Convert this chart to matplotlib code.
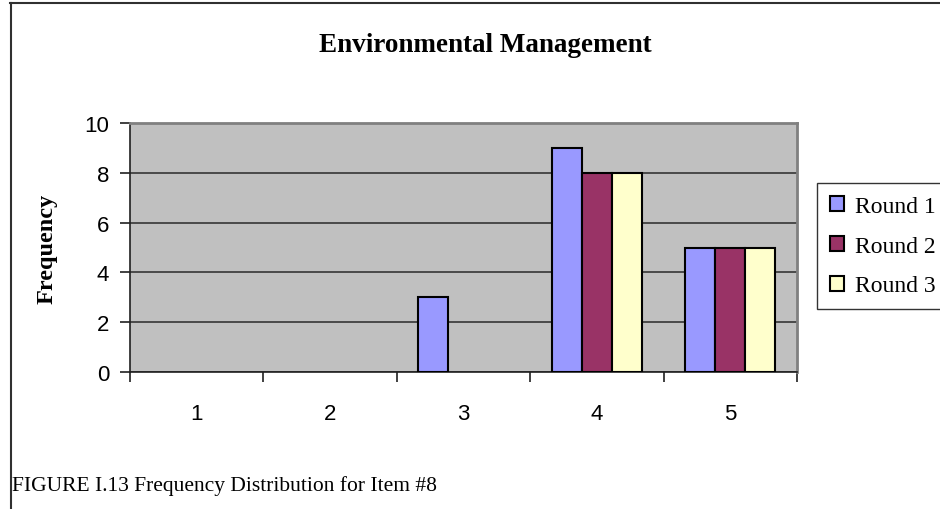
import matplotlib
matplotlib.use("Agg")
import matplotlib.pyplot as plt
from matplotlib.lines import Line2D
import numpy as np

# Survey ratings and response counts per round
categories = ["1", "2", "3", "4", "5"]
round1 = [0, 0, 3, 9, 5]
round2 = [0, 0, 0, 8, 5]
round3 = [0, 0, 0, 8, 5]
series_names = ["Round 1", "Round 2", "Round 3"]
series_colors = ["#9999FF", "#993366", "#FFFFCC"]
y_ticks = [0, 2, 4, 6, 8, 10]

SERIF = ["Liberation Serif", "DejaVu Serif"]
SANS = ["Liberation Sans", "DejaVu Sans"]

fig = plt.figure(figsize=(9.4, 5.1), dpi=100)
fig.patch.set_facecolor("white")

W, H = 940, 510
left, right, top, bottom = 130, 797, 124, 373
ax = fig.add_axes([left / W, 1 - bottom / H, (right - left) / W, (bottom - top) / H])
ax.set_facecolor("#C0C0C0")

x = np.arange(1, len(categories) + 1)
width = 0.225
offsets = [-width, 0, width]
for vals, name, col, off in zip([round1, round2, round3], series_names, series_colors, offsets):
    # zero-count bars get no outline so they leave no mark on the baseline
    edge_w = [1.5 if v > 0 else 0 for v in vals]
    ax.bar(x + off, vals, width=width, color=col, edgecolor="black",
           linewidth=edge_w, label=name, zorder=3)

ax.set_xlim(0.5, len(categories) + 0.5)
ax.set_ylim(0, 10)

# horizontal gridlines
ax.set_yticks(y_ticks)
ax.yaxis.grid(True, color="#404040", linewidth=1.3, zorder=1)
ax.set_axisbelow(True)

# category labels centred, tick marks on category boundaries
ax.set_xticks(x)
ax.set_xticklabels(categories, fontfamily=SANS, fontsize=16)
ax.set_xticks(np.arange(0.5, len(categories) + 1, 1.0), minor=True)
ax.tick_params(axis="x", which="major", length=0, pad=22)
ax.tick_params(axis="x", which="minor", length=7, width=1.2, color="#202020")
ax.tick_params(axis="y", length=7, width=1.2, color="#202020", pad=8)
for lbl in ax.get_yticklabels():
    lbl.set_fontfamily(SANS)
    lbl.set_fontsize(16)

for side in ("top", "right"):
    ax.spines[side].set_color("#808080")
    ax.spines[side].set_linewidth(2)
for side in ("left", "bottom"):
    ax.spines[side].set_color("#202020")
    ax.spines[side].set_linewidth(1.2)

ax.set_ylabel("Frequency", fontfamily=SERIF, fontweight="bold", fontsize=17.5,
              va="center")
ax.yaxis.set_label_coords((47 - left) / (right - left), 0.5)

fig.text(485 / W, 1 - 46 / H, "Environmental Management", fontfamily=SERIF,
         fontweight="bold", fontsize=19.5, ha="center", va="center")

leg = fig.legend(loc="center left", bbox_to_anchor=(817 / W, 1 - 247 / H),
                 prop={"family": SERIF, "size": 17}, frameon=True, fancybox=False,
                 handlelength=0.6, handleheight=0.6, handletextpad=0.45,
                 labelspacing=0.8, borderpad=0.55, borderaxespad=0)
leg.get_frame().set_edgecolor("black")
leg.get_frame().set_linewidth(1.0)
for patch in leg.get_patches():
    patch.set_linewidth(1.5)

fig.text(12 / W, 1 - 486 / H, "FIGURE I.13 Frequency Distribution for Item #8",
         fontfamily=SERIF, fontsize=15.5, ha="left", va="center")

# outer frame along the left and top edges
fig.add_artist(Line2D([10.5 / W, 10.5 / W], [0, 1 - 4 / H], transform=fig.transFigure,
                      color="#303030", linewidth=1.5))
fig.add_artist(Line2D([10 / W, 1], [1 - 4 / H, 1 - 4 / H], transform=fig.transFigure,
                      color="#303030", linewidth=1.5))

fig.savefig("out.png", dpi=100)
